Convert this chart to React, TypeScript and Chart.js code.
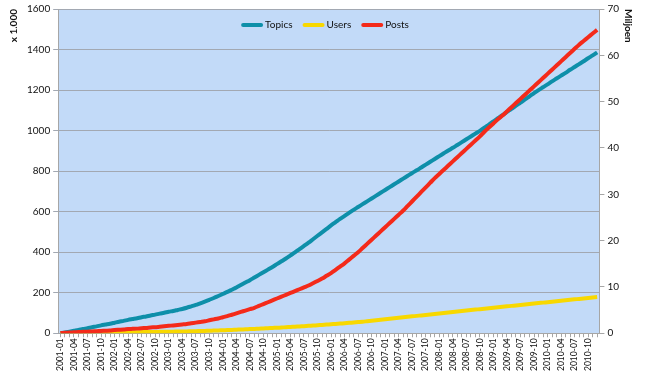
import React, { useEffect, useRef } from "react";
import { Chart, registerables } from "chart.js";

Chart.register(...registerables);

const YEARS = [2001, 2002, 2003, 2004, 2005, 2006, 2007, 2008, 2009, 2010];
const MONTHS = ["01", "02", "03", "04", "05", "06", "07", "08", "09", "10", "11", "12"];
const CATEGORIES = YEARS.flatMap((y) => MONTHS.map((m) => `${y}-${m}`));

// Topics (x 1.000), left axis
const TOPICS = [
  1, 4, 8, 12, 16, 21, 25, 30, 34, 39,
  43, 47, 52, 57, 61, 66, 70, 74, 79, 83,
  88, 92, 97, 101, 106, 110, 115, 120, 126, 133,
  140, 148, 156, 165, 174, 184, 194, 204, 215, 226,
  238, 250, 262, 275, 288, 301, 314, 327, 341, 355,
  369, 384, 399, 415, 431, 447, 464, 481, 498, 515,
  532, 548, 564, 579, 594, 609, 623, 637, 651, 665,
  679, 693, 707, 721, 735, 749, 763, 777, 791, 804,
  818, 832, 846, 860, 874, 888, 902, 915, 929, 943,
  957, 971, 985, 999, 1014, 1030, 1045, 1061, 1076, 1092,
  1107, 1123, 1138, 1154, 1169, 1185, 1200, 1214, 1228, 1243,
  1257, 1271, 1285, 1300, 1314, 1328, 1342, 1357, 1371, 1386,
];

// Users (x 1.000), left axis
const USERS = [
  0.3, 0.6, 0.9, 1.2, 1.5, 1.8, 2.1, 2.4, 2.7, 3.0,
  3.3, 3.6, 3.9, 4.2, 4.5, 4.8, 5.1, 5.4, 5.7, 6.0,
  6.3, 6.6, 6.9, 7.2, 7.6, 8.0, 8.4, 8.8, 9.3, 9.8,
  10.3, 11.0, 11.7, 12.5, 13.3, 14.1, 14.9, 15.8, 16.7, 17.6,
  18.5, 19.5, 20.5, 21.5, 22.6, 23.7, 24.8, 26.0, 27.2, 28.4,
  29.7, 31.0, 32.3, 33.7, 35.1, 36.6, 38.1, 39.6, 41.2, 42.8,
  44.4, 46.1, 47.8, 49.6, 51.4, 53.2, 55.1, 57.0, 59.4, 61.8,
  64.2, 66.6, 69.0, 71.4, 73.8, 76.2, 78.6, 81.0, 83.4, 85.8,
  88.2, 90.6, 93.0, 95.4, 97.8, 100.2, 102.6, 105.0, 107.4, 109.8,
  112.1, 114.4, 116.7, 119.0, 121.3, 123.6, 125.9, 128.2, 130.5, 132.8,
  135.1, 137.4, 139.7, 142.0, 144.3, 146.6, 148.9, 151.2, 153.5, 155.8,
  158.1, 160.4, 162.7, 165.0, 167.3, 169.6, 171.9, 174.2, 176.5, 178.8,
];

// Posts (Miljoen), right axis
const POSTS = [
  0.05, 0.1, 0.15, 0.2, 0.25, 0.3, 0.35, 0.4, 0.45, 0.5,
  0.55, 0.6, 0.7, 0.75, 0.8, 0.9, 0.95, 1.0, 1.1, 1.15,
  1.25, 1.3, 1.4, 1.5, 1.6, 1.7, 1.8, 1.9, 2.0, 2.15,
  2.3, 2.45, 2.6, 2.8, 3.0, 3.2, 3.45, 3.7, 4.0, 4.3,
  4.6, 4.9, 5.2, 5.5, 5.9, 6.3, 6.7, 7.1, 7.5, 7.9,
  8.3, 8.7, 9.1, 9.5, 9.9, 10.3, 10.8, 11.3, 11.8, 12.4,
  13.0, 13.7, 14.4, 15.1, 15.9, 16.7, 17.5, 18.4, 19.3, 20.2,
  21.1, 22.0, 22.9, 23.8, 24.7, 25.6, 26.5, 27.5, 28.5, 29.5,
  30.5, 31.5, 32.5, 33.5, 34.4, 35.3, 36.2, 37.1, 38.0, 38.9,
  39.8, 40.7, 41.6, 42.5, 43.5, 44.4, 45.3, 46.2, 47.0, 47.9,
  48.8, 49.7, 50.6, 51.5, 52.4, 53.3, 54.2, 55.1, 56.0, 56.9,
  57.8, 58.7, 59.6, 60.5, 61.4, 62.3, 63.1, 63.9, 64.7, 65.5,
];

const LEFT_MAX = 1600;
const LEFT_STEP = 200;
const RIGHT_MAX = 70;
const RIGHT_STEP = 10;

const FONT = "Lato, 'Liberation Sans', sans-serif";

const plotBg = {
  id: "plotBg",
  beforeDraw(chart: any) {
    const { ctx, chartArea } = chart;
    if (!chartArea) return;
    ctx.save();
    ctx.fillStyle = "#C2DAF8";
    ctx.fillRect(chartArea.left, chartArea.top, chartArea.right - chartArea.left, chartArea.bottom - chartArea.top);
    ctx.restore();
  },
};

const innerLegend = {
  id: "innerLegend",
  afterDatasetsDraw(chart: any) {
    const { ctx, chartArea } = chart;
    const ds = chart.data.datasets;
    ctx.save();
    ctx.font = `10px ${FONT}`;
    const lineW = 22;
    const gap = 2;
    const pad = 10;
    const widths = ds.map((d: any) => lineW + gap + ctx.measureText(d.label).width);
    const total = widths.reduce((a: number, b: number) => a + b, 0) + pad * (ds.length - 1);
    let x = 325 - total / 2;
    const y = chartArea.top + 16;
    ds.forEach((d: any, i: number) => {
      ctx.strokeStyle = d.borderColor;
      ctx.lineWidth = 4;
      ctx.lineCap = "round";
      ctx.beginPath();
      ctx.moveTo(x + 2, y);
      ctx.lineTo(x + lineW - 2, y);
      ctx.stroke();
      ctx.fillStyle = "#111";
      ctx.textBaseline = "middle";
      ctx.textAlign = "left";
      ctx.fillText(d.label, x + lineW + gap, y);
      x += widths[i] + pad;
    });
    ctx.restore();
  },
};

export default function App() {
  const ref = useRef<HTMLCanvasElement | null>(null);

  useEffect(() => {
    if (!ref.current) return;
    const chart = new Chart(ref.current, {
      type: "line",
      data: {
        labels: CATEGORIES,
        datasets: [
          {
            label: "Topics",
            data: TOPICS,
            borderColor: "#0E8FA9",
            backgroundColor: "#0E8FA9",
            borderWidth: 4,
            pointRadius: 0,
            tension: 0.3,
            yAxisID: "y",
            order: 3,
          },
          {
            label: "Users",
            data: USERS,
            borderColor: "#F8D800",
            backgroundColor: "#F8D800",
            borderWidth: 4,
            pointRadius: 0,
            tension: 0.3,
            yAxisID: "y",
            order: 2,
          },
          {
            label: "Posts",
            data: POSTS,
            borderColor: "#F42A1A",
            backgroundColor: "#F42A1A",
            borderWidth: 4,
            pointRadius: 0,
            tension: 0.3,
            yAxisID: "y1",
            order: 1,
          },
        ],
      },
      options: {
        animation: false,
        responsive: false,
        maintainAspectRatio: false,
        layout: { padding: { left: 8, right: 12, top: 7, bottom: 15 } },
        plugins: {
          tooltip: { enabled: false },
          legend: { display: false },
        },
        scales: {
          x: {
            type: "category",
            offset: true,
            border: { color: "#A6A6A6" },
            grid: { drawOnChartArea: false, drawTicks: true, tickLength: 4, color: "#A6A6A6" },
            ticks: {
              autoSkip: false,
              maxRotation: 90,
              minRotation: 90,
              padding: 1,
              color: "#111",
              font: { family: FONT, size: 8.5 },
              callback: (_v: any, i: number) => (i % 3 === 0 ? CATEGORIES[i] : ""),
            },
          },
          y: {
            position: "left",
            min: 0,
            max: LEFT_MAX,
            border: { color: "#A6A6A6" },
            grid: { color: "#A2A8B2", tickLength: 5 },
            ticks: {
              stepSize: LEFT_STEP,
              padding: 3,
              color: "#111",
              font: { family: FONT, size: 10 },
              callback: (v: any) => String(v),
            },
            title: {
              display: true,
              text: "x 1.000",
              align: "end",
              color: "#111",
              font: { family: FONT, size: 10, weight: "bold" },
              padding: { top: 0, bottom: 4 },
            },
          },
          y1: {
            position: "right",
            min: 0,
            max: RIGHT_MAX,
            border: { color: "#A6A6A6" },
            grid: { drawOnChartArea: false, tickLength: 5, color: "#A6A6A6" },
            ticks: {
              stepSize: RIGHT_STEP,
              padding: 3,
              color: "#111",
              font: { family: FONT, size: 10 },
              callback: (v: any) => String(v),
            },
            title: {
              display: true,
              text: "Miljoen",
              align: "end",
              color: "#111",
              font: { family: FONT, size: 10, weight: "bold" },
              padding: { top: 4, bottom: 0 },
            },
          },
        },
      },
      plugins: [plotBg, innerLegend],
    });
    return () => chart.destroy();
  }, []);

  return (
    <div style={{ position: "fixed", left: 0, top: 0, width: 650, height: 387, background: "#fff" }}>
      <canvas ref={ref} width={650} height={387} style={{ width: 650, height: 387 }} />
    </div>
  );
}
